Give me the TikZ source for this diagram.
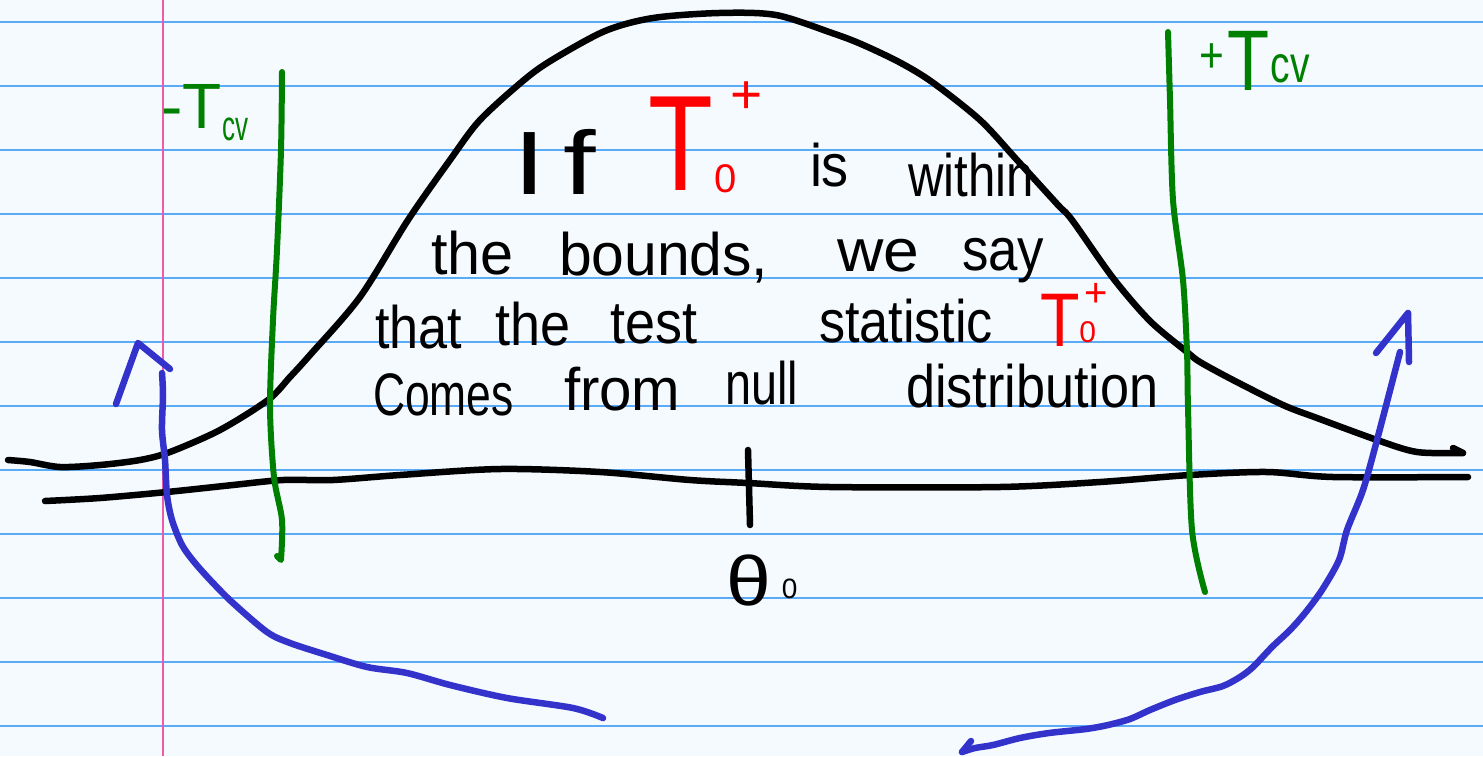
\documentclass[tikz,border=0pt]{standalone}
\usepackage{fontspec}
\setmainfont{Liberation Sans}
\usepackage{graphicx}
\definecolor{paper}{RGB}{245,250,255}
\definecolor{rulecol}{RGB}{90,170,250}
\definecolor{margincol}{RGB}{240,90,170}
\definecolor{inkgreen}{RGB}{0,128,0}
\definecolor{inkblue}{RGB}{51,51,204}
\definecolor{inkred}{RGB}{255,0,0}
\newcommand{\fs}[1]{\fontsize{#1}{#1}\selectfont}
\newcommand{\sx}[2]{\scalebox{#1}[1]{#2}}
\begin{document}
\begin{tikzpicture}[x=1pt,y=-1pt,
  pen/.style={line width=6.5pt,line cap=round,line join=round},
  blackpen/.style={pen,black},
  greenpen/.style={pen,inkgreen,line width=6pt},
  bluepen/.style={pen,inkblue},
  word/.style={anchor=base west,inner sep=0pt,outer sep=0pt,font=\fs{60}},
  redword/.style={word,text=inkred},
  greenword/.style={word,text=inkgreen}]
\useasboundingbox (0,0) rectangle (1483,756);
\fill[paper] (0,0) rectangle (1483,756);
\foreach \yy in {22,86,...,726} {\draw[rulecol,line width=2pt] (0,\yy) -- (1483,\yy);}
\draw[margincol,line width=1.6pt] (163,0) -- (163,756);

% axis
\draw[blackpen] plot[smooth,tension=0.5] coordinates {(45,501) (100,498) (167,492) (233,485) (283,480) (333,480) (400,475) (500,469) (600,472) (690,480) (748,483) (830,487) (1000,487) (1100,482) (1190,475) (1267,472) (1333,477) (1468,477)};
\draw[blackpen] (748,450) -- (750,525);

% bell curve
\draw[blackpen] plot[smooth,tension=0.5] coordinates {(8,460) (30,462) (60,467) (100,465) (140,460) (170,452) (220,430) (268,400) (290,377) (310,355) (360,297) (408,220) (450,160) (480,120) (524,80) (552,60) (605,31) (653,18) (719,13) (776,15) (832,33) (861,44) (899,62) (932,82) (980,120) (1017,160) (1058,205) (1072,220) (1113,278) (1150,321) (1187,352) (1200,362) (1233,380) (1283,405) (1317,418) (1377,440) (1417,452) (1463,453)};
\draw[blackpen] (1463,453) -- (1453,448);

% green bounds
\draw[greenpen] plot[smooth,tension=0.5] coordinates {(282,72) (281,150) (277,250) (273,320) (270,407) (274,477) (282,520) (281,560)} -- (277,556);
\draw[greenpen] plot[smooth,tension=0.5] coordinates {(1168,32) (1170,100) (1173,200) (1183,280) (1187,352) (1188,407) (1192,530) (1205,592)};

% blue arrows
\draw[bluepen] (116,404) -- (138,343) -- (170,369);
\draw[bluepen] plot[smooth,tension=0.5] coordinates {(162,373) (163,395) (162,430) (165,460) (167,495) (172,520) (182,545) (195,563) (213,583) (233,603) (267,632) (290,643) (327,655) (367,667) (407,673) (450,685) (507,698) (573,708) (603,718)};
\draw[bluepen] (1376,353) -- (1408,313) -- (1409,362);
\draw[bluepen] plot[smooth,tension=0.5] coordinates {(1400,352) (1377,440) (1363,490) (1347,530) (1339,560) (1322,590) (1305,613) (1290,630) (1272,647) (1253,667) (1240,677) (1223,686) (1200,692) (1175,700) (1150,710) (1130,719) (1108,725) (1086,729) (1049,733) (1020,738) (993,745) (975,748) (962,752)};
\draw[bluepen] (962,752) -- (971,741);

% text line 1
\node[word,font=\fs{90}] (wIf) at (513,194) {\sx{1.3}{I\hspace{14pt}f}};
\node[redword] (T1) at (648,190) {{\fs{136}\sx{0.78}{T}}\kern2pt\raisebox{-2pt}{\rlap{\fs{40}0}}\kern16pt\raisebox{77pt}{\fs{55}+}};
\node[word] (wis) at (810,186) {\sx{0.9}{is}};
\node[word] (wwithin) at (908,196) {\sx{0.82}{within}};
% line 2
\node[word] (wthe1) at (431,274) {\sx{0.99}{the}};
\node[word] (wbounds) at (559,275) {\sx{0.98}{bounds,}};
\node[word] (wwe) at (837,271) {\sx{1.07}{we}};
\node[word] (wsay) at (962,270) {\sx{0.88}{say}};
% line 3
\node[word] (wthat) at (375,348) {\sx{0.87}{that}};
\node[word] (wthe2) at (495,345) {\sx{0.9}{the}};
\node[word] (wtest) at (610,343) {\sx{0.9}{test}};
\node[word] (wstat) at (819,342) {\sx{0.87}{statistic}};
\node[redword] (T2) at (1040,346) {{\fs{76}\sx{0.85}{T}}\raisebox{4pt}{\rlap{\fs{30}0}}\kern5pt\raisebox{40pt}{\fs{40}+}};
% line 4
\node[word] (wcomes) at (373,415) {\sx{0.74}{Comes}};
\node[word] (wfrom) at (564,410) {\sx{0.97}{from}};
\node[word] (wnull) at (725,404) {\sx{0.78}{null}};
\node[word] (wdist) at (906,407) {\sx{0.87}{distribution}};

% theta_0
\node[word] (theta) at (726,605) {{\fs{70}\sx{1.15}{θ}}\kern11pt\raisebox{7pt}{\fs{28}0}};

% green labels
\node[greenword] (lT) at (161,128) {{\fs{64}-T}\kern1pt\raisebox{-12pt}{\fs{42}\sx{0.62}{cv}}};
\node[greenword] (rT) at (1199,90) {\raisebox{18pt}{\fs{50}\sx{0.85}{+}}\kern4pt{\fs{86}\sx{0.8}{T}}\kern1pt\raisebox{8pt}{\fs{52}\sx{0.75}{cv}}};
\end{tikzpicture}
\end{document}
